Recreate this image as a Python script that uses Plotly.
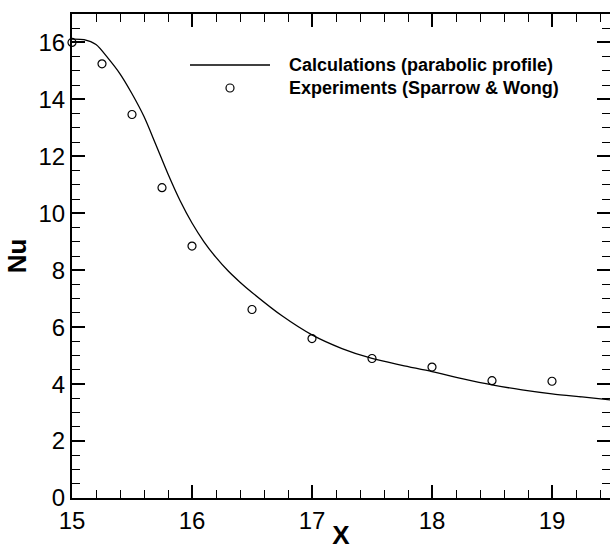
import plotly.graph_objects as go

# Calculated curve (parabolic profile)
calc_x = [15.0, 15.1, 15.2, 15.3, 15.4, 15.5, 15.6, 15.7, 15.8, 15.9, 16.0, 16.1, 16.2, 16.3,
          16.4, 16.5, 16.75, 17.0, 17.25, 17.5, 17.75, 18.0, 18.25, 18.5, 18.75, 19.0, 19.25, 19.5]
calc_nu = [16.12, 16.1, 15.93, 15.45, 14.9, 14.2, 13.4, 12.4, 11.38, 10.45, 9.66, 9.0, 8.45, 7.98,
           7.58, 7.22, 6.4, 5.73, 5.25, 4.9, 4.66, 4.44, 4.19, 3.97, 3.8, 3.66, 3.55, 3.44]

# Experiments (Sparrow & Wong)
exp_x = [15.0, 15.25, 15.5, 15.75, 16.0, 16.5, 17.0, 17.5, 18.0, 18.5, 19.0, 19.5]
exp_nu = [16.0, 15.25, 13.47, 10.9, 8.85, 6.62, 5.6, 4.9, 4.6, 4.12, 4.1, 4.05]

legend_labels = ["Calculations (parabolic profile)", "Experiments (Sparrow & Wong)"]

W, H = 610, 550
L, R, T, B = 72, 0, 14, 52
pw, ph = W - L - R, H - T - B
xmin = 15.0
xmax = xmin + pw / 120.0

fig = go.Figure()
fig.add_trace(go.Scatter(x=calc_x, y=calc_nu, mode="lines",
                         line=dict(color="black", width=1.3, shape="spline", smoothing=0.8),
                         showlegend=False))
fig.add_trace(go.Scatter(x=exp_x, y=exp_nu, mode="markers",
                         marker=dict(symbol="circle-open", size=8, color="black", line=dict(width=1.2)),
                         showlegend=False, cliponaxis=False))

def px2paper(px, py):
    return (px - L) / pw, (H - B - py) / ph

# manual legend
lx0, ly = px2paper(190, 65)
lx1, _ = px2paper(270, 65)
fig.add_shape(type="line", xref="paper", yref="paper", x0=lx0, x1=lx1, y0=ly, y1=ly,
              line=dict(color="black", width=1.3))
mx, my = px2paper(230, 88)
fig.add_shape(type="circle", xref="paper", yref="paper", xsizemode="pixel", ysizemode="pixel",
              xanchor=mx, yanchor=my, x0=-4, x1=4, y0=-4, y1=4, line=dict(color="black", width=1.2))
for i, lab in enumerate(legend_labels):
    tx, ty = px2paper(287, 65 + 23 * i)
    fig.add_annotation(x=tx, y=ty, xref="paper", yref="paper", text="<b>%s</b>" % lab, showarrow=False,
                       xanchor="left", yanchor="middle",
                       font=dict(family="Liberation Sans, Arial", size=18, color="black"))

axis_common = dict(showline=True, linecolor="black", linewidth=2, mirror="ticks", ticks="inside",
                   tickcolor="black", tickwidth=2, ticklen=13, showgrid=False, zeroline=False,
                   tickfont=dict(family="Liberation Sans, Arial", size=24, color="black"))

fig.update_xaxes(range=[xmin, xmax], tick0=15, dtick=1, ticklabelstandoff=0,
                 minor=dict(dtick=0.2, ticks="inside", ticklen=8, tickwidth=1.3, tickcolor="black", showgrid=False),
                 title=dict(text="<b>X</b>", font=dict(family="Liberation Sans, Arial", size=26, color="black"), standoff=0),
                 **axis_common)
fig.update_yaxes(range=[0, 17], tick0=0, dtick=2,
                 minor=dict(dtick=0.5, ticks="inside", ticklen=8, tickwidth=1.3, tickcolor="black", showgrid=False),
                 title=dict(text="<b>Nu</b>", font=dict(family="Liberation Sans, Arial", size=26, color="black"), standoff=4),
                 **axis_common)

fig.update_layout(width=W, height=H, margin=dict(l=L, r=R, t=T, b=B, autoexpand=False),
                  paper_bgcolor="white", plot_bgcolor="white", showlegend=False)

fig.write_html("out.html")
